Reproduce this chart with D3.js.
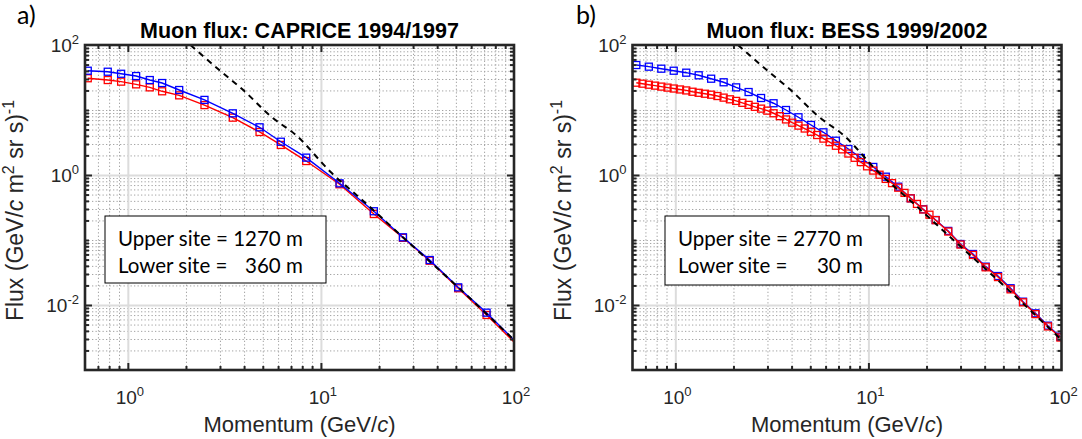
<!DOCTYPE html>
<html><head><meta charset="utf-8">
<script src="https://cdn.jsdelivr.net/npm/d3@7"></script>
<style>body{margin:0;background:#fff}svg{display:block}</style>
</head><body>
<svg id="chart" width="1082" height="439"></svg>
<script>
// ---------------- data ----------------
const xDomain = [0.6, 100];
const yDomain = [0.001, 100];
const xMajorTicks = [1, 10, 100];
const xTickExponents = ["0", "1", "2"];
const yMajorTicks = [0.01, 1, 100];
const yTickExponents = ["-2", "0", "2"];

const capriceMomentum = [0.620, 0.787, 0.923, 1.104, 1.299, 1.505, 1.845, 2.494, 3.496, 4.81, 6.20, 8.39, 12.49, 18.8, 26.6, 36.6, 51.4, 72.1, 100];
const capriceUpper = [40.2, 38.8, 36.1, 33.3, 28.9, 26.0, 20.3, 14.3, 8.89, 5.42, 3.25, 1.85, 0.745, 0.277, 0.110, 0.0492, 0.0187, 0.00762, 0.0029];
const capriceLower = [30.8, 28.9, 27.3, 24.8, 22.3, 19.4, 16.8, 11.9, 7.62, 4.59, 2.90, 1.64, 0.720, 0.251, 0.108, 0.0480, 0.0181, 0.00702, 0.0027];
const capriceMarkerCount = 18; // last entry is only the curve end

const bessUpperMomentum = [0.628, 0.729, 0.846, 0.981, 1.139, 1.321, 1.533, 1.779, 2.065, 2.396, 2.780, 3.226, 3.743, 4.343, 5.040, 5.848, 6.786, 7.874, 9.137, 10.60, 12.30, 14.27, 16.56, 19.22, 22.30, 25.9, 30.0, 34.8, 40.5, 46.9, 54.5, 63.2, 73.3, 85.1, 98.7];
const bessUpper = [49.2, 46.4, 43.2, 40.2, 37.5, 34.2, 30.3, 26.7, 22.3, 18.9, 15.3, 12.7, 10.0, 7.73, 5.88, 4.54, 3.37, 2.51, 1.83, 1.33, 0.942, 0.661, 0.438, 0.297, 0.203, 0.138, 0.0867, 0.0609, 0.0389, 0.0279, 0.0181, 0.01125, 0.00745, 0.00481, 0.00325];
const bessLowerMomentum = [0.628, 0.676, 0.729, 0.785, 0.846, 0.911, 0.981, 1.057, 1.139, 1.227, 1.321, 1.423, 1.533, 1.652, 1.779, 1.917, 2.065, 2.224, 2.396, 2.581, 2.780, 2.995, 3.226, 3.475, 3.743, 4.032, 4.343, 4.679, 5.040, 5.429, 5.848, 6.300, 6.786, 7.310, 7.874, 8.482, 9.137, 9.842, 10.60, 11.42, 12.30, 13.25, 14.27, 15.38, 16.56, 17.84, 19.22, 20.71, 22.30, 25.9, 30.0, 34.8, 40.5, 46.9, 54.5, 63.2, 73.3, 85.1, 98.7];
const bessLower = [26.3, 25.4, 24.5, 23.7, 22.9, 22.1, 21.4, 20.7, 20.0, 19.1, 18.4, 17.8, 17.2, 16.4, 15.5, 14.6, 13.8, 12.9, 12.0, 11.2, 10.5, 9.77, 8.91, 8.04, 7.16, 6.38, 5.75, 5.19, 4.62, 4.12, 3.63, 3.20, 2.82, 2.48, 2.14, 1.84, 1.58, 1.36, 1.17, 1.01, 0.871, 0.750, 0.638, 0.531, 0.437, 0.359, 0.295, 0.245, 0.202, 0.135, 0.0851, 0.0589, 0.0380, 0.0269, 0.0174, 0.0110, 0.00724, 0.00468, 0.00316];

const refMomentum = [2.11, 3.0, 4.0, 5.5, 7.5, 11.2, 16.4, 26.6, 51.4, 100];
const refFlux = [100, 40.3, 19.7, 8.0, 4.0, 1.12, 0.41, 0.11, 0.0187, 0.0029];

const titles = ["Muon flux: CAPRICE 1994/1997", "Muon flux: BESS 1999/2002"];
const tags = ["a)", "b)"];
const upperSites = ["1270 m", "2770 m"];
const lowerSites = ["360 m", "30 m"];

// ---------------- layout ----------------
const svg = d3.select("#chart");
const TOP = 45, BOTTOM = 370;
const AX = "#262626";
const FONT = "'Liberation Sans', Arial, Helvetica, sans-serif";
const LFONT = "Lato, 'Open Sans', sans-serif";

const panels = [
  {x0: 85, x1: 514, tagX: 17, box: [105, 216, 221, 67],
   series: [
     {p: capriceMomentum, f: capriceLower, n: capriceMarkerCount, color: "#ff0000"},
     {p: capriceMomentum, f: capriceUpper, n: capriceMarkerCount, color: "#0000ff"}]},
  {x0: 632.5, x1: 1061.5, tagX: 576, box: [665, 216, 224, 69],
   series: [
     {p: bessUpperMomentum, f: bessUpper, n: bessUpper.length, color: "#0000ff"},
     {p: bessLowerMomentum, f: bessLower, n: bessLower.length, color: "#ff0000"}]}
];

function minorValues(lo, hi, skip) {
  const out = [];
  for (let e = -4; e <= 3; e++) for (let m = 1; m <= 9; m++) {
    const v = m * Math.pow(10, e);
    if (v > lo * 1.0001 && v < hi * 0.9999 && !skip.some(s => Math.abs(s - v) / v < 1e-6)) out.push(v);
  }
  return out;
}

panels.forEach((P, i) => {
  const x = d3.scaleLog().domain(xDomain).range([P.x0, P.x1]);
  const y = d3.scaleLog().domain(yDomain).range([BOTTOM, TOP]);
  const g = svg.append("g");
  const h = BOTTOM - TOP, w = P.x1 - P.x0;

  const xMinor = minorValues(xDomain[0], xDomain[1], xMajorTicks);
  const yMinor = minorValues(yDomain[0], yDomain[1], yMajorTicks);

  // minor grid (dotted)
  const gm = g.append("g");
  gm.append("g").attr("transform", `translate(0,${BOTTOM})`)
    .call(d3.axisBottom(x).tickValues(xMinor).tickSize(-h).tickFormat(""));
  gm.append("g").attr("transform", `translate(${P.x0},0)`)
    .call(d3.axisLeft(y).tickValues(yMinor).tickSize(-w).tickFormat(""));
  gm.selectAll(".domain").remove();
  gm.selectAll("line").attr("stroke", "#a3a3a3").attr("stroke-width", 1).attr("stroke-dasharray", "1.3,2.2");

  // major grid (solid light)
  const gM = g.append("g");
  gM.append("g").attr("transform", `translate(0,${BOTTOM})`)
    .call(d3.axisBottom(x).tickValues(xMajorTicks.filter(v => v < xDomain[1])).tickSize(-h).tickFormat(""));
  gM.append("g").attr("transform", `translate(${P.x0},0)`)
    .call(d3.axisLeft(y).tickValues(yMajorTicks.filter(v => v < yDomain[1])).tickSize(-w).tickFormat(""));
  gM.selectAll(".domain").remove();
  gM.selectAll("line").attr("stroke", "#dcdcdc").attr("stroke-width", 2);

  // legend box
  const [bx, by, bw, bh] = P.box;
  g.append("rect").attr("x", bx).attr("y", by).attr("width", bw).attr("height", bh)
    .attr("fill", "#fff").attr("stroke", "#000").attr("stroke-width", 1);
  const lg = g.append("g").attr("font-family", LFONT).attr("font-size", 20.5).attr("fill", "#000");
  const up = lg.append("text").attr("x", bx + 13).attr("y", by + 30).text("Upper site = " + upperSites[i]);
  const endX = bx + 13 + up.node().getComputedTextLength();
  lg.append("text").attr("x", bx + 13).attr("y", by + 57).text("Lower site =");
  lg.append("text").attr("x", endX).attr("y", by + 57).attr("text-anchor", "end").text(lowerSites[i]);

  // clip
  const cid = "clip" + i;
  svg.append("clipPath").attr("id", cid).append("rect")
    .attr("x", P.x0).attr("y", TOP).attr("width", w).attr("height", h);
  const dg = g.append("g").attr("clip-path", `url(#${cid})`);

  const line = d3.line().x(d => x(d[0])).y(d => y(d[1]));
  P.series.forEach(s => {
    const pts = s.p.map((p, k) => [p, s.f[k]]);
    dg.append("path").attr("d", line(pts)).attr("fill", "none")
      .attr("stroke", s.color).attr("stroke-width", 1.4);
    dg.selectAll(null).data(pts.slice(0, s.n)).enter().append("rect")
      .attr("x", d => x(d[0]) - 3.5).attr("y", d => y(d[1]) - 3.5)
      .attr("width", 7).attr("height", 7)
      .attr("fill", "none").attr("stroke", s.color).attr("stroke-width", 1.3);
  });
  const refPts = refMomentum.map((p, k) => [p, refFlux[k]]);
  dg.append("path").attr("d", d3.line().curve(d3.curveMonotoneX).x(d => x(d[0])).y(d => y(d[1]))(refPts))
    .attr("fill", "none").attr("stroke", "#000").attr("stroke-width", 2).attr("stroke-dasharray", "6,5");

  // ticks (inside, all sides)
  const ticks = g.append("g");
  const xMaj = xMajorTicks.filter(v => v < xDomain[1]);
  const yMaj = yMajorTicks.filter(v => v < yDomain[1]);
  ticks.append("g").attr("transform", `translate(0,${BOTTOM})`).call(d3.axisBottom(x).tickValues(xMaj).tickSizeInner(-7).tickSizeOuter(0).tickFormat(""));
  ticks.append("g").attr("transform", `translate(0,${BOTTOM})`).call(d3.axisBottom(x).tickValues(xMinor).tickSizeInner(-4).tickSizeOuter(0).tickFormat(""));
  ticks.append("g").attr("transform", `translate(0,${TOP})`).call(d3.axisTop(x).tickValues(xMaj).tickSizeInner(-7).tickSizeOuter(0).tickFormat(""));
  ticks.append("g").attr("transform", `translate(0,${TOP})`).call(d3.axisTop(x).tickValues(xMinor).tickSizeInner(-4).tickSizeOuter(0).tickFormat(""));
  ticks.append("g").attr("transform", `translate(${P.x0},0)`).call(d3.axisLeft(y).tickValues(yMaj).tickSizeInner(-7).tickSizeOuter(0).tickFormat(""));
  ticks.append("g").attr("transform", `translate(${P.x0},0)`).call(d3.axisLeft(y).tickValues(yMinor).tickSizeInner(-4).tickSizeOuter(0).tickFormat(""));
  ticks.append("g").attr("transform", `translate(${P.x1},0)`).call(d3.axisRight(y).tickValues(yMaj).tickSizeInner(-7).tickSizeOuter(0).tickFormat(""));
  ticks.append("g").attr("transform", `translate(${P.x1},0)`).call(d3.axisRight(y).tickValues(yMinor).tickSizeInner(-4).tickSizeOuter(0).tickFormat(""));
  ticks.selectAll(".domain").remove();
  ticks.selectAll("line").attr("stroke", AX).attr("stroke-width", 2);

  // frame
  g.append("rect").attr("x", P.x0).attr("y", TOP).attr("width", w).attr("height", h)
    .attr("fill", "none").attr("stroke", AX).attr("stroke-width", 2.6);

  // tick labels
  const tl = g.append("g").attr("font-family", FONT).attr("font-size", 19).attr("fill", AX);
  xMajorTicks.forEach((v, k) => {
    const t = tl.append("text").attr("x", x(v) + 2).attr("y", BOTTOM + 34).attr("text-anchor", "middle");
    t.append("tspan").text("10");
    t.append("tspan").attr("dy", -8).attr("font-size", 13).text(xTickExponents[k]);
  });
  yMajorTicks.forEach((v, k) => {
    const t = tl.append("text").attr("x", P.x0 - 6).attr("y", y(v) + 7).attr("text-anchor", "end");
    t.append("tspan").text("10");
    t.append("tspan").attr("dy", -8).attr("font-size", 13).text(yTickExponents[k]);
  });

  // axis labels
  const xl = g.append("text").attr("x", (P.x0 + P.x1) / 2).attr("y", 432)
    .attr("text-anchor", "middle").attr("font-family", FONT).attr("font-size", 22).attr("fill", AX);
  xl.append("tspan").text("Momentum (GeV/");
  xl.append("tspan").attr("font-style", "italic").text("c");
  xl.append("tspan").text(")");

  const yl = g.append("text").attr("transform", `translate(${P.x0 - 62},${(TOP + BOTTOM) / 2 + 3}) rotate(-90)`)
    .attr("text-anchor", "middle").attr("font-family", FONT).attr("font-size", 23).attr("fill", AX);
  yl.append("tspan").text("Flux (GeV/");
  yl.append("tspan").attr("font-style", "italic").text("c");
  yl.append("tspan").text(" m");
  yl.append("tspan").attr("dy", -9).attr("font-size", 16).text("2");
  yl.append("tspan").attr("dy", 9).text(" sr s)");
  yl.append("tspan").attr("dy", -9).attr("font-size", 16).text("-1");

  // title and tag
  g.append("text").attr("x", (P.x0 + P.x1) / 2).attr("y", 38).attr("text-anchor", "middle")
    .attr("font-family", FONT).attr("font-weight", "bold").attr("font-size", 21.5).attr("fill", "#000")
    .text(titles[i]);
  g.append("text").attr("x", P.tagX).attr("y", 24).attr("font-family", LFONT)
    .attr("font-size", 25).attr("fill", "#000").text(tags[i]);
});
</script>
</body></html>
